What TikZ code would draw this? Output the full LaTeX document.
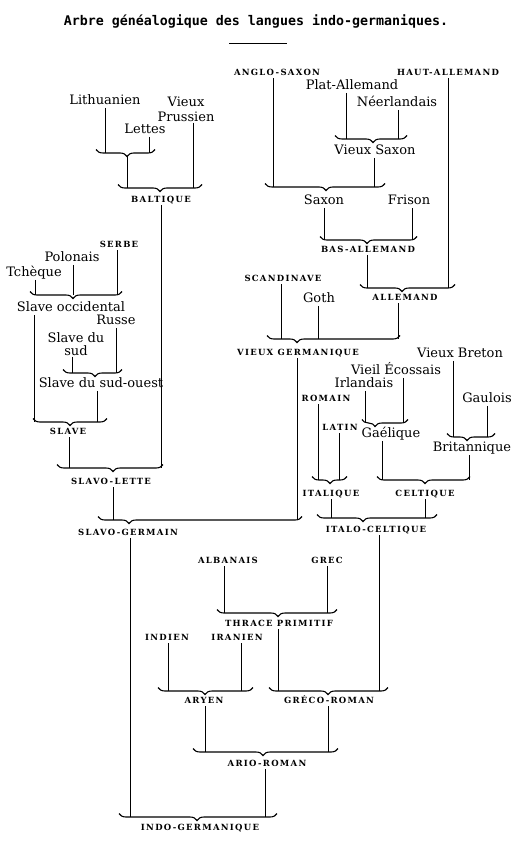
\documentclass[tikz,border=0pt]{standalone}
\usepackage{fontspec}
\setmainfont{DejaVu Serif}
\newfontfamily\capsfont[LetterSpace=15]{DejaVu Serif}
\newfontfamily\titlefont{DejaVu Sans Mono}
\usetikzlibrary{decorations.pathreplacing}

\tikzset{
  lang/.style={font=\fontsize{13}{13}\selectfont, inner sep=1pt, text height=9pt, text depth=2.5pt},
  twoline/.style={font=\fontsize{13}{#1}\selectfont, inner sep=1pt, align=center},
  group/.style={font=\capsfont\bfseries\fontsize{8.5}{10}\selectfont, inner sep=1.5pt, text height=6.5pt, text depth=1pt},
  stem/.style={line width=0.6pt},
  bracket/.style={decorate, decoration={brace, mirror, amplitude=7pt, aspect=#1}, line width=1.1pt}
}

\begin{document}
\begin{tikzpicture}[x=1pt, y=-1pt]
\useasboundingbox (0,0) rectangle (516,850);

%Title
\node[font=\titlefont\bfseries\fontsize{13.3}{16}\selectfont] (title) at (256,21.5) {Arbre généalogique des langues indo-germaniques.};
\draw[line width=0.7pt] (229,43) -- (287,43);

%Languages
\foreach \n/\x/\y/\txt in {lith/105/101/Lithuanien, lett/145/130/Lettes,
    polo/72/258/Polonais, tche/34/273/Tchèque, socc/71/308/Slave occidental,
    russ/116/321/Russe, ssuo/101/384/Slave du sud-ouest,
    plat/352/86/Plat-Allemand, neer/397/103/Néerlandais, vsax/375/151/Vieux Saxon,
    saxo/324/201/Saxon, fris/409/201/Frison, goth/319/299/Goth,
    vbre/460/354/Vieux Breton, veco/396/371/Vieil Écossais, irla/364/384/Irlandais,
    gaul/487/399/Gaulois, gael/391/434/Gaélique, brit/472/448/Britannique}
  \node[lang] (\n) at (\x,\y) {\txt};
\node[twoline=15] (prus) at (186,109) {Vieux\\Prussien};
\node[twoline=13] (ssud) at (76,344) {Slave du\\sud};

%Groups
\foreach \n/\x/\y/\txt in {balt/161/200/BALTIQUE, serb/119/245/SERBE, slav/68/432/SLAVE,
    slet/111/482/SLAVO-LETTE, sger/128/533/SLAVO-GERMAIN,
    angl/277/73/ANGLO-SAXON, haut/448/73/HAUT-ALLEMAND, basa/368/250/BAS-ALLEMAND,
    scan/283/279/SCANDINAVE, alle/405/298/ALLEMAND, vger/298/353/VIEUX GERMANIQUE,
    roma/326/399/ROMAIN, lati/340/428/LATIN, ital/331/494/ITALIQUE, celt/425/494/CELTIQUE,
    itce/376/530/ITALO-CELTIQUE, alba/228/561/ALBANAIS, grec/327/561/GREC,
    thra/279/624/THRACE\enspace PRIMITIF, indi/167/638/INDIEN, iran/237/638/IRANIEN,
    arye/204/701/ARYEN, grom/329/701/GRÉCO-ROMAN, ario/267/764/ARIO-ROMAN,
    indo/200/828/INDO-GERMANIQUE}
  \node[group] (\n) at (\x,\y) {\txt};

%Braces
\foreach \n/\xl/\xr/\y/\tx in {bA/96/155/153/127, bBalt/118/202/188/160,
    bSocc/30/122/295/73, bSsuo/63/122/373/95, bSlav/33/107/422/70,
    bSlet/57/163/468/113, bSger/98/302/520/129,
    bVsax/335/407/139/373, bSaxo/265/385/187/326, bBasa/320/417/240/367,
    bAlle/360/455/288/402, bVger/267/400/339/297,
    bGael/362/408/423/375, bBrit/447/495/437/467, bItal/312/347/480/330,
    bCelt/377/470/480/425, bItce/317/437/518/363,
    bThra/217/337/613/278, bArye/158/253/691/205, bGrom/269/388/691/328,
    bArio/193/338/752/263, bIndo/119/277/817/197}
{
  \pgfmathsetmacro\asp{(\tx-\xl)/(\xr-\xl)}
  \draw[bracket=\asp] (\xl,\y-3.5) -- (\xr,\y-3.5);
  \coordinate (\n) at (\tx,\y);
  \coordinate (\n-tip) at (\tx,\y+3.5);
}

%Stems
\foreach \n/\off/\br in {lith/0/bA, lett/4/bA, prus/7/bBalt,
    tche/1/bSocc, polo/1/bSocc, serb/-2/bSocc, ssud/-4/bSsuo, russ/0/bSsuo,
    socc/-37/bSlav, ssuo/-4/bSlav, slav/1/bSlet, balt/0/bSlet,
    slet/2/bSger, vger/-1/bSger, plat/-6/bVsax, neer/1/bVsax,
    angl/-4/bSaxo, vsax/-1/bSaxo, saxo/0/bBasa, fris/3/bBasa,
    basa/-1/bAlle, haut/0/bAlle, scan/-2/bVger, goth/-1/bVger, alle/-7/bVger,
    irla/1/bGael, veco/7/bGael, vbre/-7/bBrit, gaul/0/bBrit,
    roma/-8/bItal, lati/-1/bItal, gael/-9/bCelt, brit/-3/bCelt,
    ital/0/bItce, celt/0/bItce, alba/-4/bThra, grec/0/bThra,
    indi/1/bArye, iran/4/bArye, thra/-1/bGrom, itce/3/bGrom,
    arye/1/bArio, grom/-1/bArio, sger/2/bIndo, ario/-2/bIndo}
  \draw[stem] ([xshift=\off pt]\n.south) -- ([xshift=\off pt]\n.south |- \br);
\draw[stem] (bA-tip) -- (bA-tip |- bBalt);

\end{tikzpicture}
\end{document}
